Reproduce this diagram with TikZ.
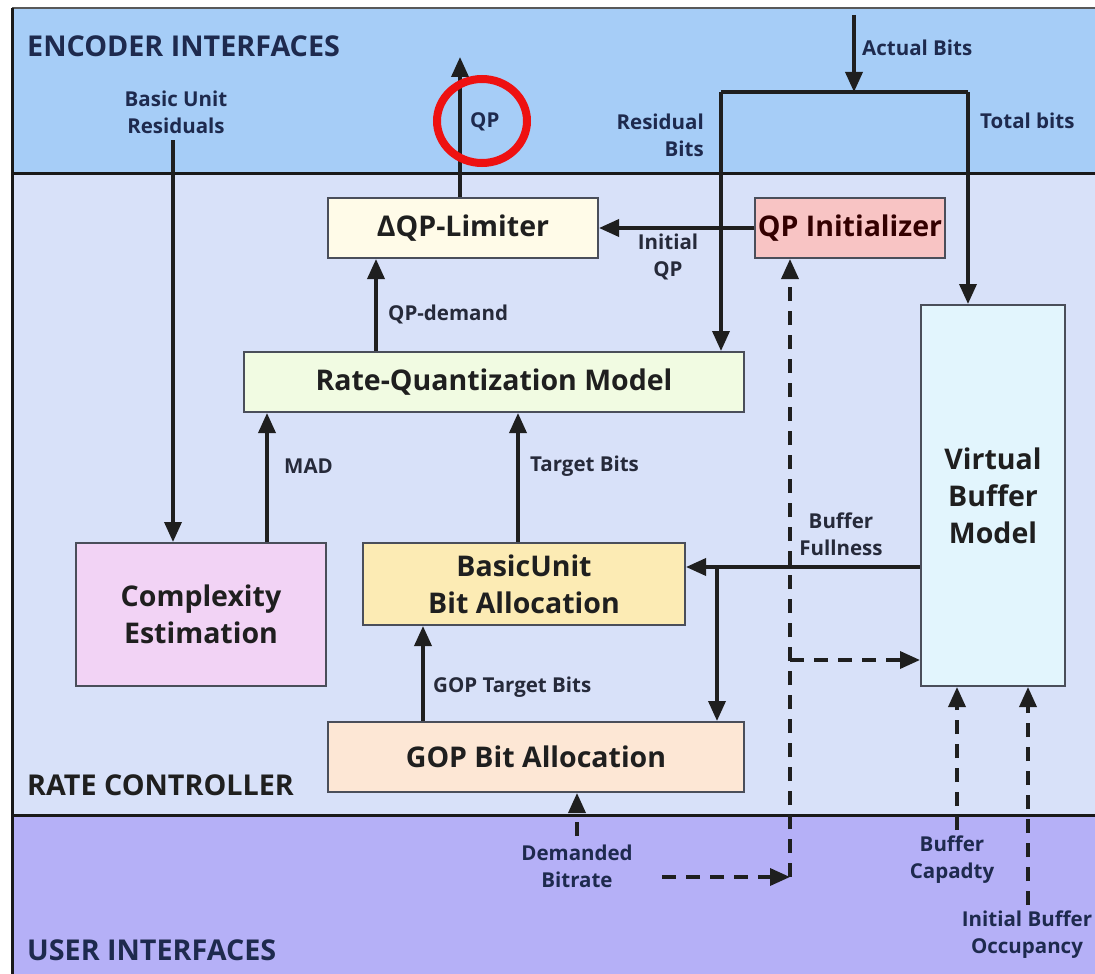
\documentclass[tikz,border=0pt]{standalone}
\usepackage{fontspec}
\setmainfont{Open Sans}
\usetikzlibrary{arrows.meta,calc}

\definecolor{encband}{HTML}{A6CDF7}
\definecolor{rcband}{HTML}{D8E1F9}
\definecolor{userband}{HTML}{B5B0F7}
\definecolor{boxline}{HTML}{4A4E5A}
\definecolor{navytext}{HTML}{1E2A4E}
\definecolor{labeltext}{HTML}{262A3A}
\definecolor{dqpfill}{HTML}{FFFBE8}
\definecolor{qpifill}{HTML}{F8C4C4}
\definecolor{vbmfill}{HTML}{E2F5FD}
\definecolor{rqmfill}{HTML}{F1FBE2}
\definecolor{cexfill}{HTML}{F2D3F5}
\definecolor{buafill}{HTML}{FCEBB4}
\definecolor{gopfill}{HTML}{FDE7D5}
\definecolor{markred}{HTML}{EE1111}

\begin{document}
\begin{tikzpicture}[x=1pt,y=-1pt,
  blk/.style={draw=boxline, line width=2pt, inner sep=0pt, align=center,
    text=black!88, font=\bfseries\fontsize{28.5}{37}\selectfont},
  lbl/.style={inner sep=0pt, align=center, text=labeltext,
    font=\bfseries\fontsize{20.5}{27}\selectfont},
  hdr/.style={inner sep=0pt, anchor=west, text=navytext,
    font=\bfseries\fontsize{28.7}{33}\selectfont},
  arr/.style={-{Triangle[length=20pt,width=17pt]}, line width=3.5pt, draw=black!88},
  darr/.style={arr, dash pattern=on 14pt off 10pt},
  sep/.style={line width=3pt, draw=black!90}]

\useasboundingbox (0,0) rectangle (1095,974);

% interface bands
\fill[white] (0,0) rectangle (1095,974);
\fill[encband] (12,8) rectangle (1095,173);
\fill[rcband] (12,173) rectangle (1095,815);
\fill[userband] (12,815) rectangle (1095,974);
\draw[line width=2pt, draw=gray!70!black] (12,8) -- (1095,8);
\draw[sep] (12,8) -- (12,974);
\draw[sep] (12,173) -- (1095,173);
\draw[sep] (12,815) -- (1095,815);

\node[hdr] (enc) at (27,46) {ENCODER INTERFACES};
\node[hdr, text=black!88] (rc) at (27,785) {RATE CONTROLLER};
\node[hdr] (usr) at (27,950) {USER INTERFACES};

% processing blocks
\node[blk, fill=dqpfill, minimum width=270pt, minimum height=60pt] (dqp) at (463,228)
  {\char"0394QP-Limiter};
\node[blk, fill=qpifill, minimum width=190pt, minimum height=60pt, text=black!80!red] (qpi) at (850,228)
  {QP Initializer};
\node[blk, fill=vbmfill, minimum width=144pt, minimum height=381pt] (vbm) at (993,495.5)
  {Virtual\\Buffer\\Model};
\node[blk, fill=rqmfill, minimum width=500pt, minimum height=60pt] (rqm) at (494,382)
  {Rate-Quantization Model};
\node[blk, fill=cexfill, minimum width=250pt, minimum height=143pt] (cex) at (201,614.5)
  {Complexity\\Estimation};
\node[blk, fill=buafill, minimum width=322pt, minimum height=82pt] (bua) at (524,584)
  {BasicUnit\\Bit Allocation};
\node[blk, fill=gopfill, minimum width=416pt, minimum height=70pt] (gop) at (536,757)
  {GOP Bit Allocation};

% signal labels
\node[lbl, text=navytext] (bur) at (176,112) {Basic Unit\\Residuals};
\node[lbl, text=navytext, anchor=west] (qpl) at (470,122) {QP};
\node[lbl, text=navytext, anchor=west] (abl) at (862,48) {Actual Bits};
\node[lbl, text=navytext, align=right, anchor=east] (rbl) at (704,135) {Residual\\Bits};
\node[lbl, text=navytext, anchor=west] (tbl) at (980,121) {Total bits};
\node[lbl] (iqp) at (668,257) {Initial\\QP};
\node[lbl, anchor=west] (qpd) at (388,314) {QP-demand};
\node[lbl, anchor=west] (mad) at (284,466) {MAD};
\node[lbl, anchor=west] (tgb) at (530,466) {Target Bits};
\node[lbl] (bfl) at (841,534) {Buffer\\Fullness};
\node[lbl, anchor=west] (gtb) at (433,687) {GOP Target Bits};
\node[lbl, text=navytext] (dbr) at (577,866) {Demanded\\Bitrate};
\node[lbl, text=navytext] (bcp) at (952,860) {Buffer\\Capadty};
\node[lbl, text=navytext] (ibo) at (1027,935) {Initial Buffer\\Occupancy};

% connector anchors
\coordinate (qpout) at (460,57);
\coordinate (burx) at (173,140);
\coordinate (qpdx) at (376,0);
\coordinate (madx) at (267,0);
\coordinate (tgbx) at (518,0);
\coordinate (gtbx) at (423,0);
\coordinate (abtop) at (854,15);
\coordinate (abbot) at (854,92);
\coordinate (rbtop) at (721,92);
\coordinate (tbtop) at (968,92);
\coordinate (bfy) at (0,567);
\coordinate (brx) at (717,567);
\coordinate (dbtop) at (577,836);
\coordinate (dbend) at (662,877);
\coordinate (corner) at (790,877);
\coordinate (vbr) at (790,660);
\coordinate (bcbot) at (957,830);
\coordinate (ibbot) at (1028,905);

% solid signal paths
\draw[arr] (dqp.north -| qpout) -- (qpout);
\draw[arr] (burx) -- (cex.north -| burx);
\draw[arr] (rqm.north -| qpdx) -- (dqp.south -| qpdx);
\draw[arr] (cex.north -| madx) -- (rqm.south -| madx);
\draw[arr] (bua.north -| tgbx) -- (rqm.south -| tgbx);
\draw[arr] (gop.north -| gtbx) -- (bua.south -| gtbx);
\draw[arr] (qpi.west) -- (dqp.east);
\draw[arr] (abtop) -- (abbot);
\draw[line width=3.5pt, draw=black!88] (rbtop) -- (tbtop);
\draw[arr] (rbtop) -- (rqm.north -| rbtop);
\draw[arr] (tbtop) -- (vbm.north -| tbtop);
\draw[arr] (vbm.west |- bfy) -- (bua.east |- bfy);
\draw[arr] (brx) -- (gop.north -| brx);

% dashed control paths
\draw[darr] (dbtop) -- (gop.south -| dbtop);
\draw[darr] (dbend) -- (corner);
\draw[darr] (corner) -- (qpi.south -| corner);
\draw[darr] (vbr) -- (vbm.west |- vbr);
\draw[darr] (bcbot) -- (vbm.south -| bcbot);
\draw[darr] (ibbot) -- (vbm.south -| ibbot);

% highlight mark
\draw[markred, line width=8pt] (482,121) ellipse [x radius=45, y radius=42];
\end{tikzpicture}
\end{document}
